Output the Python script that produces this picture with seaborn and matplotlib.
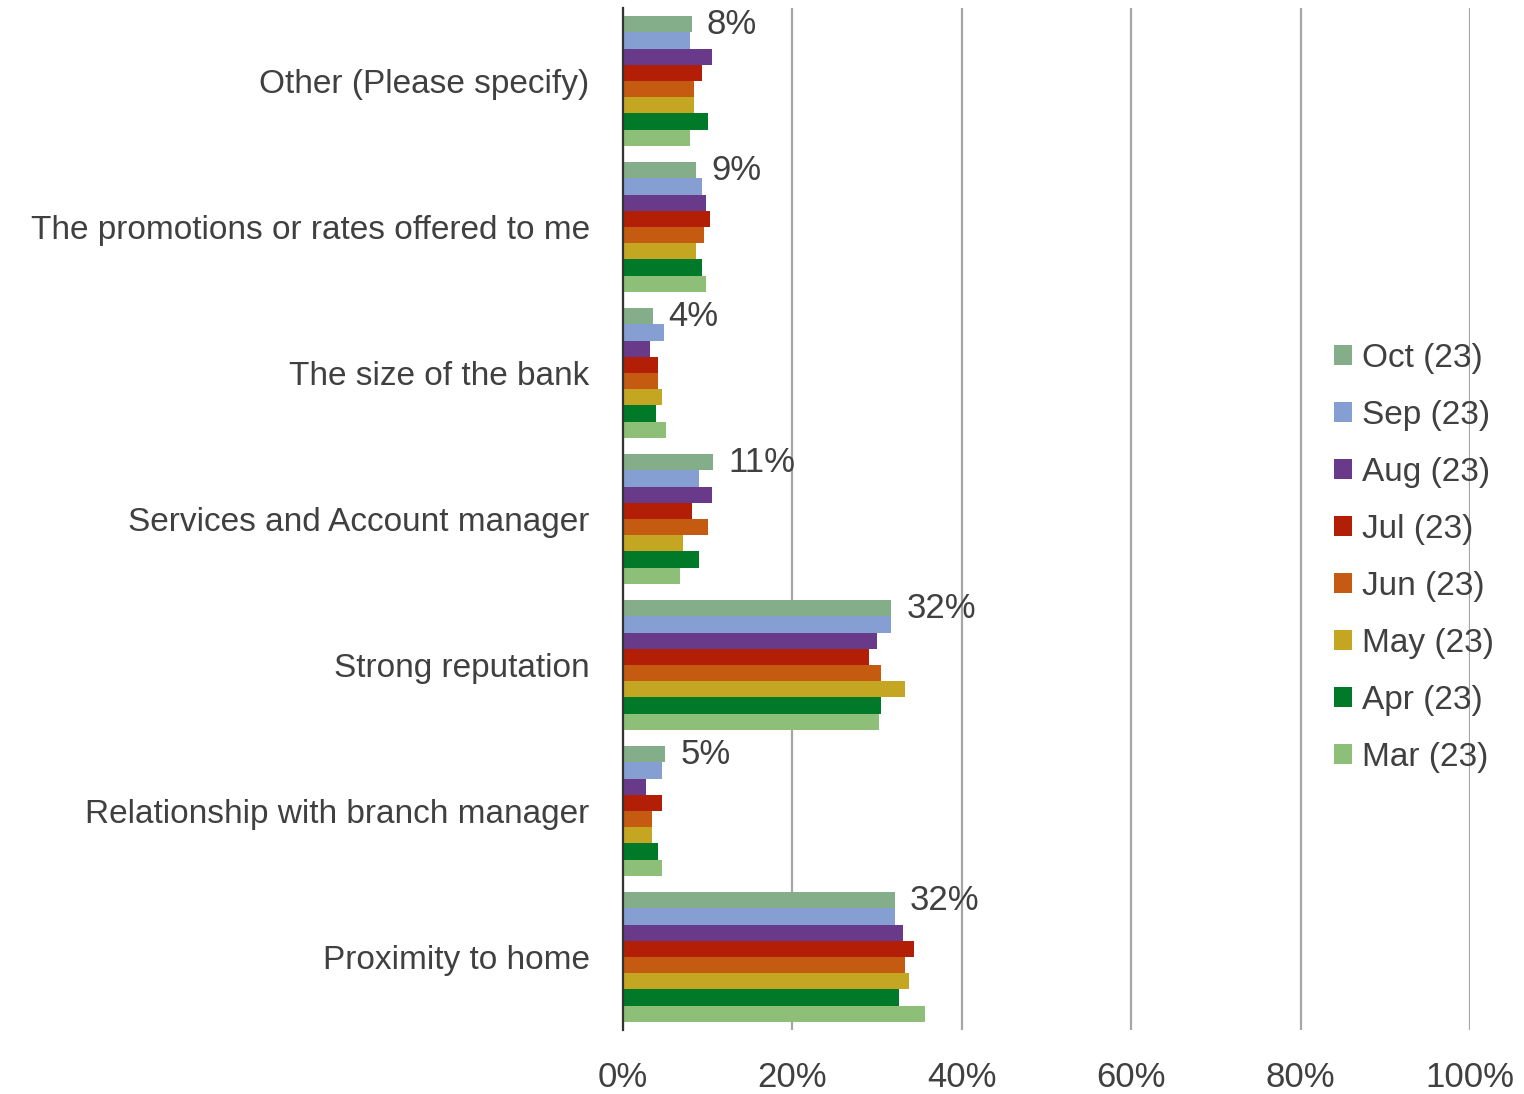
import matplotlib
matplotlib.use("Agg")
import matplotlib.pyplot as plt
import seaborn as sns
import pandas as pd
import numpy as np

categories = [
    "Other (Please specify)",
    "The promotions or rates offered to me",
    "The size of the bank",
    "Services and Account manager",
    "Strong reputation",
    "Relationship with branch manager",
    "Proximity to home",
]
months = ["Oct (23)", "Sep (23)", "Aug (23)", "Jul (23)", "Jun (23)", "May (23)", "Apr (23)", "Mar (23)"]

oct_vals = [8.1, 8.6, 3.5, 10.6, 31.7, 5.0, 32.1]
sep_vals = [7.9, 9.3, 4.8, 9.0, 31.7, 4.6, 32.1]
aug_vals = [10.5, 9.8, 3.2, 10.5, 30.0, 2.7, 33.1]
jul_vals = [9.3, 10.3, 4.1, 8.1, 29.1, 4.6, 34.3]
jun_vals = [8.4, 9.6, 4.1, 10.0, 30.5, 3.4, 33.3]
may_vals = [8.4, 8.6, 4.6, 7.1, 33.3, 3.4, 33.8]
apr_vals = [10.0, 9.3, 3.9, 9.0, 30.5, 4.1, 32.6]
mar_vals = [7.9, 9.8, 5.1, 6.7, 30.2, 4.6, 35.7]

colors = ["#84AE8A", "#869FD3", "#6A3A8A", "#B21F06", "#C55A11", "#C4A623", "#007A28", "#8DBF78"]

series = [oct_vals, sep_vals, aug_vals, jul_vals, jun_vals, may_vals, apr_vals, mar_vals]
rows = []
for m, vals in zip(months, series):
    for c, v in zip(categories, vals):
        rows.append({"category": c, "month": m, "value": v})
df = pd.DataFrame(rows)

sns.set_theme(style="white")
plt.rcParams["font.family"] = ["Liberation Sans", "DejaVu Sans"]
text_color = "#404040"

fig = plt.figure(figsize=(15.24, 10.94), dpi=100)
ax = fig.add_axes([623 / 1524, 1 - 1030 / 1094, (1470 - 623) / 1524, (1030 - 8) / 1094])

sns.barplot(data=df, y="category", x="value", hue="month", order=categories,
            hue_order=months, palette=colors, orient="h", width=0.89,
            linewidth=0, saturation=1, ax=ax, errorbar=None)

ax.set_xlim(0, 100)
ax.set_xticks(np.arange(0, 101, 20))
ax.set_xticklabels([f"{t}%" for t in range(0, 101, 20)])
ax.set_xlabel("")
ax.set_ylabel("")
ax.tick_params(axis="x", length=0, pad=22, labelsize=25, labelcolor=text_color)
ax.tick_params(axis="y", length=0, pad=24, labelsize=24, labelcolor=text_color)
ax.xaxis.grid(True, color="#A6A6A6", linewidth=1.6)
ax.set_axisbelow(True)
for s in ["top", "right", "bottom"]:
    ax.spines[s].set_visible(False)
ax.spines["left"].set_color("#333333")
ax.spines["left"].set_linewidth(1.6)

# data labels on the first series (Oct)
ax.bar_label(ax.containers[0], labels=[f"{round(v)}%" for v in oct_vals],
             padding=11, fontsize=25, color=text_color)

leg = ax.legend(loc="center left", bbox_to_anchor=(0.84, 0.462), frameon=False,
                fontsize=24, handlelength=0.54, handleheight=0.54,
                handletextpad=0.3, labelspacing=0.78, borderpad=0, borderaxespad=0)
for t in leg.get_texts():
    t.set_color(text_color)

fig.savefig("out.png", dpi=100)
